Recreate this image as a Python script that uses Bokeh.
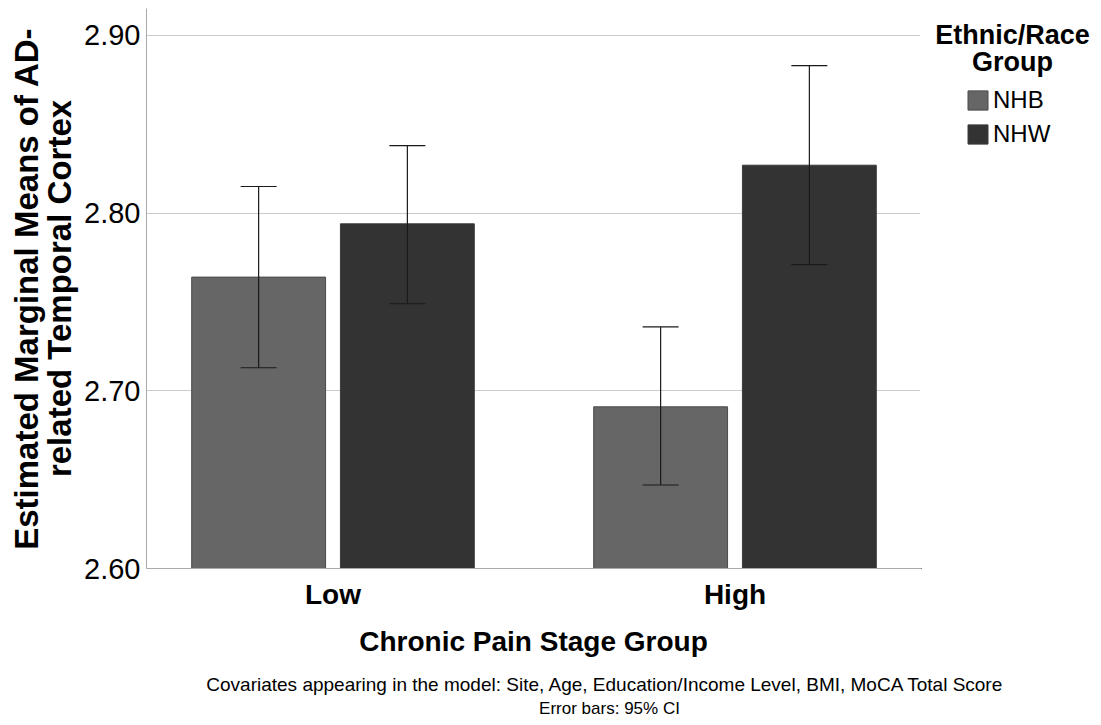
from bokeh.plotting import figure
from bokeh.layouts import row, column
from bokeh.models import (ColumnDataSource, Range1d, FixedTicker, Whisker, TeeHead,
                          Legend, LegendItem, Label, NumeralTickFormatter)
from bokeh.transform import dodge
from bokeh.embed import file_html
from bokeh.resources import INLINE

# ---- data ----
categories = ["Low", "High"]
groups = ["NHB", "NHW"]
group_colors = ["#666666", "#333333"]
group_lines = ["#4a4a4a", "#3c3c3c"]
nhb_mean = [2.764, 2.691]
nhb_lower = [2.713, 2.647]
nhb_upper = [2.815, 2.736]
nhw_mean = [2.794, 2.827]
nhw_lower = [2.749, 2.771]
nhw_upper = [2.838, 2.883]
y_ticks = [2.60, 2.70, 2.80, 2.90]

legend_title = ["Ethnic/Race", "Group"]
footnotes = ["Covariates appearing in the model: Site, Age, Education/Income Level, BMI, MoCA Total Score",
             "Error bars: 95% CI"]

FONT = "Liberation Sans"

src = ColumnDataSource(dict(
    x=list(range(len(categories))),
    nhb=nhb_mean, nhb_lo=nhb_lower, nhb_hi=nhb_upper,
    nhw=nhw_mean, nhw_lo=nhw_lower, nhw_hi=nhw_upper,
))

# ---- layout constants (pixels) ----
TOTAL_W, TOTAL_H = 1093, 717
MAIN_W, MAIN_H = 920, 668
SIDE_W = TOTAL_W - MAIN_W
FOOT_H = TOTAL_H - MAIN_H
FL, FT, FB = 146, 8, 568
PX_PER_X = 402.0
X0_PX = 332.5
PX_PER_Y = 1776.7
Y0 = 2.60

def px_x(px):
    return (px - X0_PX) / PX_PER_X

def px_y(py):
    return Y0 + (FB - py) / PX_PER_Y

# ---- main chart ----
p = figure(width=MAIN_W, height=MAIN_H, output_backend="svg", toolbar_location=None,
           x_range=Range1d(px_x(FL), px_x(MAIN_W)), y_range=Range1d(Y0, px_y(FT)),
           min_border_left=FL, min_border_right=0, min_border_top=FT,
           min_border_bottom=MAIN_H - FB)
p.outline_line_color = None

off = 0.185
bw = 0.333
r1 = p.vbar(x=dodge("x", -off, range=p.x_range), top="nhb", bottom=Y0, width=bw,
            source=src, fill_color=group_colors[0], line_color=group_lines[0], line_width=1)
r2 = p.vbar(x=dodge("x", off, range=p.x_range), top="nhw", bottom=Y0, width=bw,
            source=src, fill_color=group_colors[1], line_color=group_lines[1], line_width=1)

for base, lo, hi in [(dodge("x", -off, range=p.x_range), "nhb_lo", "nhb_hi"),
                     (dodge("x", off, range=p.x_range), "nhw_lo", "nhw_hi")]:
    w = Whisker(base=base, lower=lo, upper=hi, source=src, level="overlay",
                line_color="#1a1a1a", line_width=1.2,
                upper_head=TeeHead(size=36, line_color="#1a1a1a", line_width=1.2),
                lower_head=TeeHead(size=36, line_color="#1a1a1a", line_width=1.2))
    p.add_layout(w)

p.xaxis.ticker = FixedTicker(ticks=list(range(len(categories))))
p.xaxis.major_label_overrides = {i: c for i, c in enumerate(categories)}
p.xaxis.major_label_text_font = FONT
p.xaxis.major_label_text_font_style = "bold"
p.xaxis.major_label_text_font_size = "28px"
p.xaxis.major_label_text_color = "black"
p.xaxis.major_label_standoff = 10
p.xaxis.axis_label = "Chronic Pain Stage Group"
p.xaxis.axis_label_text_font = FONT
p.xaxis.axis_label_text_font_style = "bold"
p.xaxis.axis_label_text_font_size = "28px"
p.xaxis.axis_label_text_color = "black"
p.xaxis.axis_label_standoff = 13
p.xaxis.axis_line_color = "#aaaaaa"
p.xaxis.major_tick_line_color = None
p.xaxis.minor_tick_line_color = None
p.xaxis.major_tick_out = 0

p.yaxis.ticker = FixedTicker(ticks=y_ticks)
p.yaxis.formatter = NumeralTickFormatter(format="0.00")
p.yaxis.major_label_text_font = FONT
p.yaxis.major_label_text_font_size = "29px"
p.yaxis.major_label_text_color = "black"
p.yaxis.major_label_standoff = 6
p.yaxis.major_tick_out = 0
p.yaxis.axis_label = "Estimated Marginal Means of AD-\nrelated Temporal Cortex"
p.yaxis.axis_label_text_font = FONT
p.yaxis.axis_label_text_font_style = "bold"
p.yaxis.axis_label_text_font_size = "33px"
p.yaxis.axis_label_text_line_height = 0.88
p.yaxis.axis_label_text_color = "black"
p.yaxis.axis_label_standoff = 3
p.yaxis.axis_line_color = "#aaaaaa"
p.yaxis.major_tick_line_color = None
p.yaxis.minor_tick_line_color = None

p.xgrid.grid_line_color = None
p.ygrid.ticker = FixedTicker(ticks=y_ticks)
p.ygrid.grid_line_color = "#cccccc"
p.ygrid.grid_line_width = 1

# ---- legend panel (right); its frame lines up with the main frame (rows 8..568) ----
side = figure(width=SIDE_W, height=MAIN_H, output_backend="svg", toolbar_location=None,
              x_range=Range1d(0, SIDE_W), y_range=Range1d(MAIN_H - FB, MAIN_H - FT),
              x_axis_location=None, y_axis_location=None,
              min_border=0, min_border_left=0, min_border_right=0,
              min_border_top=FT, min_border_bottom=MAIN_H - FB)
side.outline_line_color = None
side.grid.visible = False
# proxy renderers (same data, drawn outside this panel's visible range) for the legend swatches
lr = [side.vbar(x="x", top=col, bottom=0, width=0.001, source=src,
                fill_color=c, line_color=lc, line_width=1)
      for col, c, lc in zip(["nhb", "nhw"], group_colors, group_lines)]
legend = Legend(items=[LegendItem(label=g, renderers=[r]) for g, r in zip(groups, lr)],
                location=(965 - MAIN_W, FB - 148), border_line_color=None,
                background_fill_alpha=0, padding=0, margin=0,
                glyph_width=25, glyph_height=24, label_height=24,
                label_standoff=3, spacing=6,
                label_text_font=FONT, label_text_font_size="24px",
                label_text_color="black")
side.add_layout(legend)
for txt, cy in zip(legend_title, [34, 61]):
    side.add_layout(Label(x=1012 - MAIN_W, y=MAIN_H - cy, text=txt, text_align="center",
                          text_baseline="middle", text_font=FONT, text_font_style="bold",
                          text_font_size="27px", text_color="black"))

# ---- footnote panel (bottom) ----
foot = figure(width=TOTAL_W, height=FOOT_H, output_backend="svg", toolbar_location=None,
              x_range=Range1d(0, TOTAL_W), y_range=Range1d(0, FOOT_H),
              x_axis_location=None, y_axis_location=None,
              min_border=0, min_border_left=0, min_border_right=0,
              min_border_top=0, min_border_bottom=0)
foot.outline_line_color = None
foot.grid.visible = False
for txt, cx, cy, fs in zip(footnotes, [605, 609], [684, 708], ["19px", "17px"]):
    foot.add_layout(Label(x=cx, y=TOTAL_H - cy, text=txt, text_align="center",
                          text_baseline="middle", text_font=FONT, text_font_size=fs,
                          text_color="black"))

layout = column(row(p, side, spacing=0), foot, spacing=0)
open("out.html", "w").write(file_html(layout, INLINE))
